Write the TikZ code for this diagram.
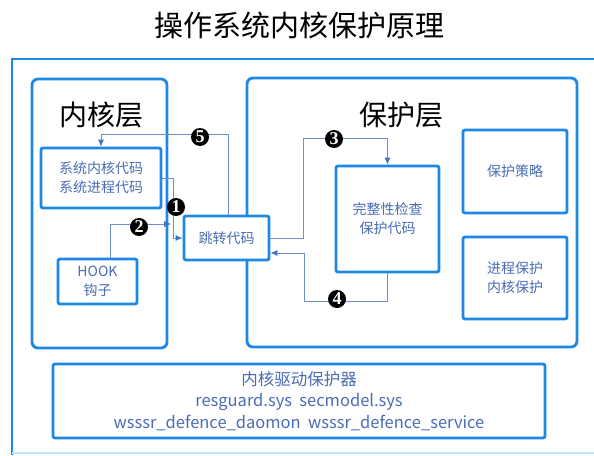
\documentclass[tikz,border=0pt]{standalone}
\usepackage{fontspec}
\setmainfont{Noto Sans CJK SC}
\newfontfamily\numfont{Liberation Serif}
\usetikzlibrary{arrows.meta}
\definecolor{boxblue}{RGB}{30,136,229}
\definecolor{txtblue}{RGB}{74,108,181}
\definecolor{lineblue}{RGB}{110,142,208}
\definecolor{arrblue}{RGB}{68,114,196}
\definecolor{lightcyan}{RGB}{185,232,250}
\tikzset{
  layerbox/.style={draw=boxblue,line width=2.8pt,rounded corners=6pt,fill=white,inner sep=0pt},
  itembox/.style={draw=boxblue,line width=2.8pt,rounded corners=2pt,fill=white,inner sep=0pt,
    text=txtblue,font=\fontsize{14}{19}\selectfont,align=center},
  layertitle/.style={font=\fontsize{28}{30}\selectfont,text=black},
  conn/.style={draw=lineblue,line width=0.8pt,-{Latex[length=7pt,width=6pt,color=arrblue]}},
  numdot/.style={circle,fill=black,text=white,inner sep=0pt,minimum size=18pt,font=\numfont\bfseries\fontsize{18}{18}\selectfont},
}
\begin{document}
\begin{tikzpicture}[x=1pt,y=-1pt]
\useasboundingbox (0,0) rectangle (594,455);
% title
\node[font=\fontsize{29}{32}\selectfont] (title) at (299,25) {操作系统内核保护原理};
% outer frame
\draw[boxblue,line width=2.8pt] (12,455) -- (12,59) -- (594,59);
\draw[lightcyan,line width=1.5pt] (12,453) -- (594,453);
% layers
\node[layerbox,minimum width=135pt,minimum height=269pt] (klayer) at (99.5,213.5) {};
\node[layertitle] (ktitle) at (101,115) {内核层};
\node[layerbox,minimum width=330pt,minimum height=269pt] (player) at (412,212.5) {};
\node[layertitle] (ptitle) at (401,115) {保护层};
% coordinates for connectors
\coordinate (c2) at (171,224);
\coordinate (c5) at (101,134);
\coordinate (c3) at (303,138);
\coordinate (c4) at (304,301);
% boxes
\node[itembox,minimum width=120pt,minimum height=60pt] (sys) at (101,178) {系统内核代码\\系统进程代码};
\node[itembox,minimum width=79pt,minimum height=45pt] (hook) at (97.5,281.5) {HOOK\\钩子};
\node[itembox,minimum width=85pt,minimum height=44pt] (jump) at (226.5,238) {跳转代码};
\node[itembox,minimum width=103pt,minimum height=106pt] (integ) at (387.5,219) {完整性检查\\保护代码};
\node[itembox,minimum width=104pt,minimum height=83pt] (policy) at (515,171.5) {保护策略};
\node[itembox,minimum width=104pt,minimum height=82pt] (proc) at (515,278) {进程保护\\内核保护};
\node[itembox,minimum width=492pt,minimum height=74pt,font=\fontsize{16.5}{21.5}\selectfont] (drv) at (299,401)
  {内核驱动保护器\\resguard.sys\ \ secmodel.sys\\wsssr\_defence\_daomon\ \ wsssr\_defence\_service};
% connectors
\draw[conn] (sys.east) -- ++(11,0) |- (jump.west);
\draw[conn] ([xshift=12.5pt]hook.north) |- (c2);
\draw[conn] ([xshift=1.5pt]jump.north) |- (c5) -- (sys.north);
\draw[conn] (jump.east) -| (c3) -| (integ.north);
\draw[conn] (integ.south) |- (c4) |- ([yshift=-15pt]jump.east);
% numbers
\node[numdot] (n1) at (176,207) {1};
\node[numdot] (n2) at (139,227) {2};
\node[numdot] (n3) at (334,139) {3};
\node[numdot] (n4) at (337,299) {4};
\node[numdot] (n5) at (200,137) {5};
\end{tikzpicture}
\end{document}
